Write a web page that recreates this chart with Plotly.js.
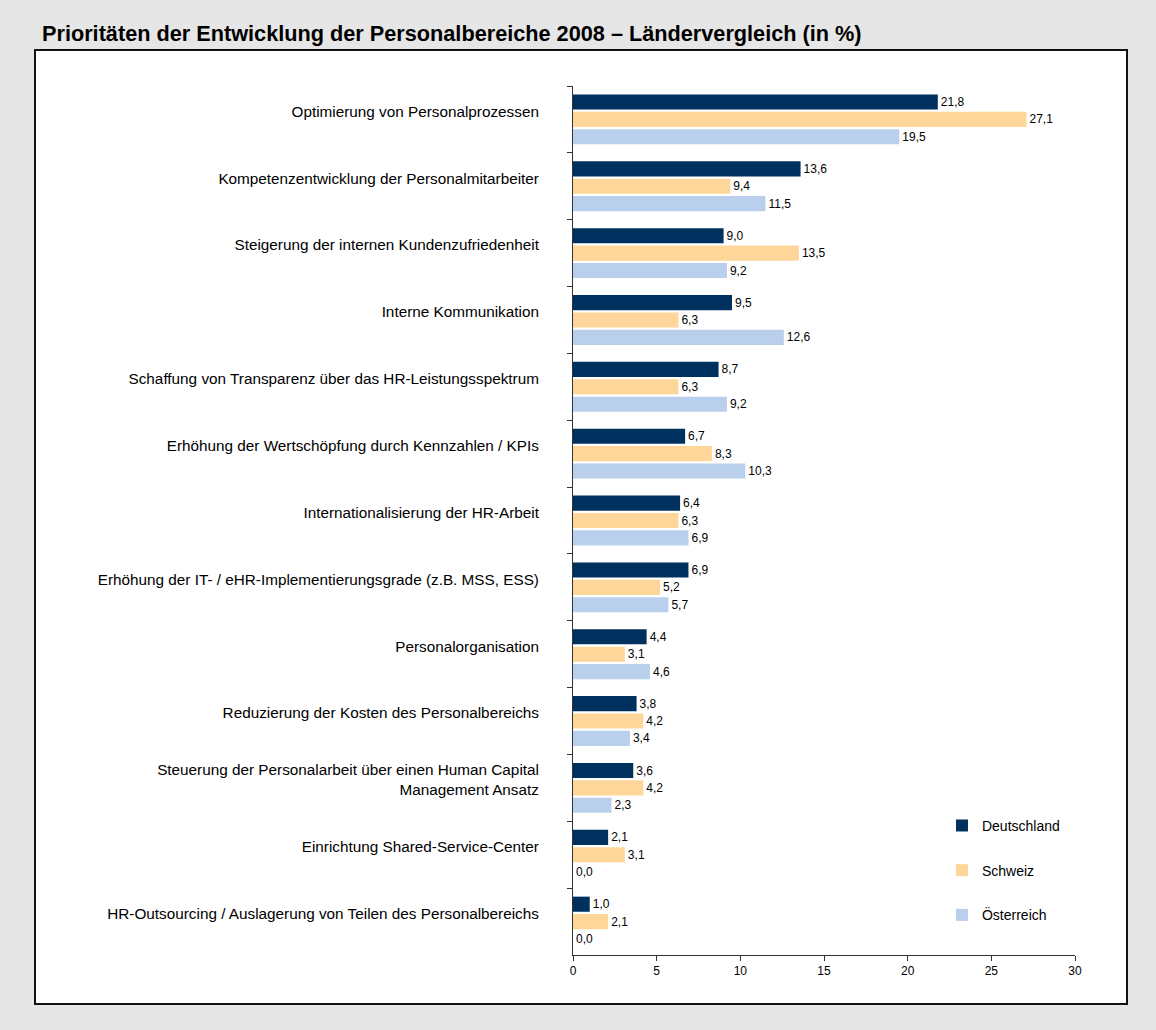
<!DOCTYPE html>
<html>
<head>
<meta charset="utf-8">
<script src="https://cdn.plot.ly/plotly-3.0.1.min.js"></script>
<style>
html, body { margin: 0; padding: 0; background: #e6e6e6; }
#chart { width: 1156px; height: 1030px; }
</style>
</head>
<body>
<div id="chart"></div>
<script>
const categories = [
  "Optimierung von Personalprozessen",
  "Kompetenzentwicklung der Personalmitarbeiter",
  "Steigerung der internen Kundenzufriedenheit",
  "Interne Kommunikation",
  "Schaffung von Transparenz über das HR-Leistungsspektrum",
  "Erhöhung der Wertschöpfung durch Kennzahlen / KPIs",
  "Internationalisierung der HR-Arbeit",
  "Erhöhung der IT- / eHR-Implementierungsgrade (z.B. MSS, ESS)",
  "Personalorganisation",
  "Reduzierung der Kosten des Personalbereichs",
  "Steuerung der Personalarbeit über einen Human Capital<br>Management Ansatz",
  "Einrichtung Shared-Service-Center",
  "HR-Outsourcing / Auslagerung von Teilen des Personalbereichs"
];
const deutschland = [21.8, 13.6, 9.0, 9.5, 8.7, 6.7, 6.4, 6.9, 4.4, 3.8, 3.6, 2.1, 1.0];
const schweiz     = [27.1, 9.4, 13.5, 6.3, 6.3, 8.3, 6.3, 5.2, 3.1, 4.2, 4.2, 3.1, 2.1];
const oesterreich = [19.5, 11.5, 9.2, 12.6, 9.2, 10.3, 6.9, 5.7, 4.6, 3.4, 2.3, 0.0, 0.0];
const seriesNames = ["Deutschland", "Schweiz", "Österreich"];
const xTicks = [0, 5, 10, 15, 20, 25, 30];

const colors = ["#00305e", "#ffd699", "#b9cfec"];
const allSeries = [deutschland, schweiz, oesterreich];

const traces = allSeries.map((vals, i) => ({
  type: "bar",
  orientation: "h",
  name: seriesNames[i],
  legendgroup: "g" + i,
  x: vals,
  y: categories,
  marker: { color: colors[i], line: { width: 0 } },
  texttemplate: "%{x:.1f}",
  textposition: "outside",
  constraintext: "none",
  cliponaxis: false,
  textfont: { family: "Liberation Sans, Arial, sans-serif", size: 12, color: "#000" },
  hoverinfo: "skip"
}));

const layout = {
  width: 1156,
  height: 1030,
  separators: ",.",
  paper_bgcolor: "#e6e6e6",
  plot_bgcolor: "rgba(0,0,0,0)",
  margin: { l: 573, r: 81, t: 86, b: 75 },
  barmode: "group",
  bargap: 0.22,
  bargroupgap: 0.13,
  font: { family: "Liberation Sans, Arial, sans-serif", color: "#000" },
  title: {
    text: "<b>Prioritäten der Entwicklung der Personalbereiche 2008 – Ländervergleich (in %)</b>",
    xref: "container", yref: "container",
    x: 42 / 1156, xanchor: "left",
    y: 1 - 33 / 1030, yanchor: "middle",
    font: { family: "Liberation Sans, Arial, sans-serif", size: 21.7, color: "#000" }
  },
  xaxis: {
    range: [0, 30],
    tickvals: xTicks,
    ticktext: xTicks.map(String),
    showgrid: false,
    zeroline: false,
    showline: true,
    linecolor: "#333",
    linewidth: 1,
    ticks: "outside",
    ticklen: 5,
    tickcolor: "#333",
    tickfont: { size: 12, color: "#000" },
    fixedrange: true
  },
  yaxis: {
    type: "category",
    range: [12.5, -0.5],
    showgrid: false,
    zeroline: false,
    showline: true,
    linecolor: "#333",
    linewidth: 1,
    ticks: "outside",
    tickson: "boundaries",
    ticklen: 5,
    tickcolor: "#333",
    ticklabelstandoff: 30,
    ticklabelshift: 8,
    tickfont: { size: 15.3, color: "#000" },
    fixedrange: true
  },
  legend: {
    x: 0.735, xanchor: "left",
    y: 0.167, yanchor: "top",
    bgcolor: "rgba(0,0,0,0)",
    traceorder: "grouped",
    tracegroupgap: 23.5,
    font: { size: 14, color: "#000" }
  },
  shapes: [{
    type: "rect", xref: "paper", yref: "paper", layer: "below",
    x0: (35 - 573) / 502, x1: (1127 - 573) / 502,
    y0: (955 - 1004) / 869, y1: (955 - 50) / 869,
    fillcolor: "#ffffff",
    line: { color: "#111", width: 2 }
  }]
};

Plotly.newPlot("chart", traces, layout, { staticPlot: true, displayModeBar: false });
</script>
</body>
</html>
